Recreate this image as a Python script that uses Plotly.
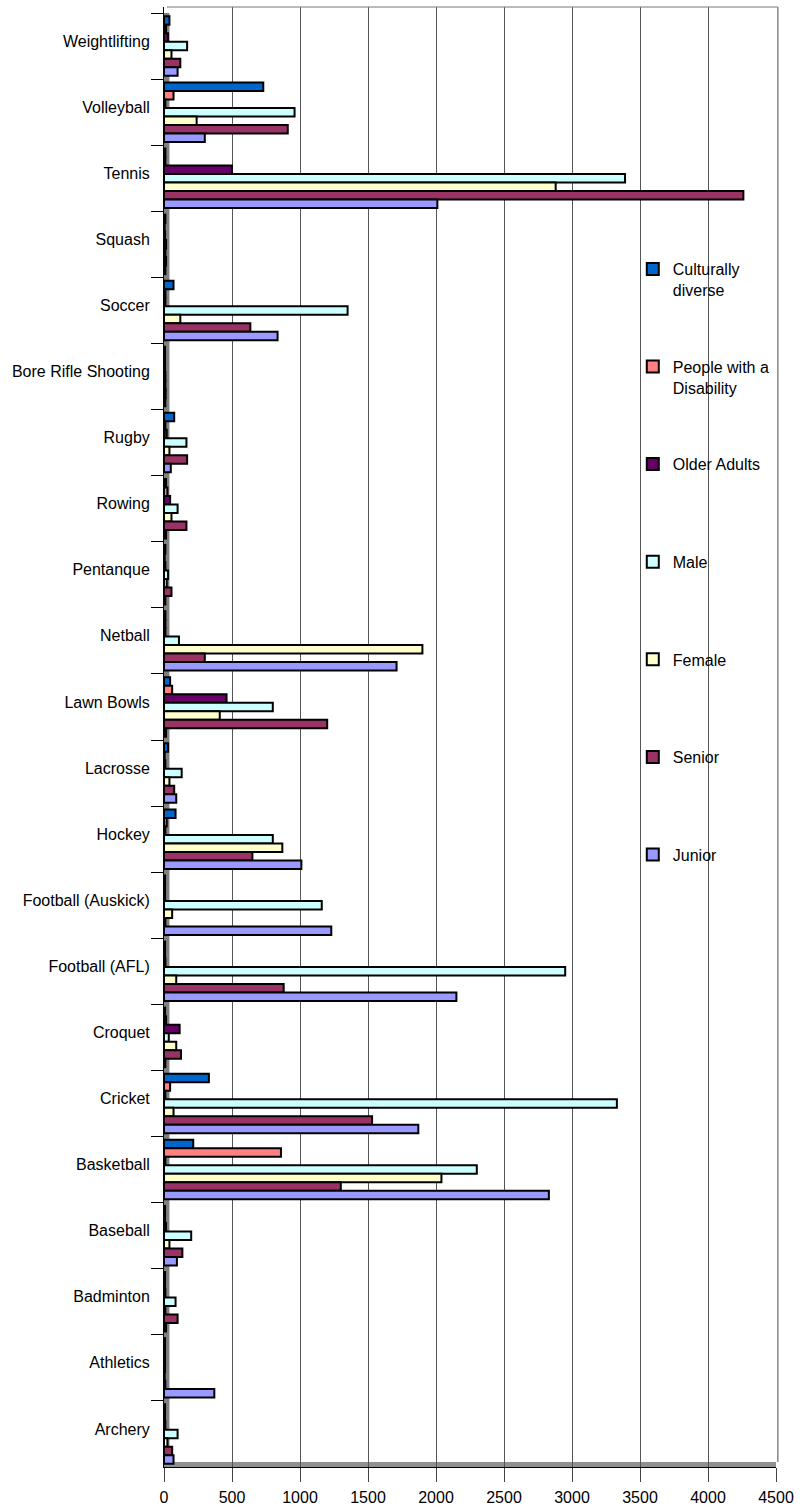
import plotly.graph_objects as go

categories = ["Weightlifting", "Volleyball", "Tennis", "Squash", "Soccer",
              "Bore Rifle Shooting", "Rugby", "Rowing", "Pentanque", "Netball",
              "Lawn Bowls", "Lacrosse", "Hockey", "Football (Auskick)",
              "Football (AFL)", "Croquet", "Cricket", "Basketball", "Baseball",
              "Badminton", "Athletics", "Archery"]

culturally_diverse = [40, 730, 10, 10, 70, 8, 75, 15, 10, 10, 45, 30, 85, 8, 8, 8, 330, 215, 8, 8, 8, 8]
people_disability = [15, 70, 10, 5, 10, 8, 10, 25, 5, 10, 60, 5, 20, 8, 8, 15, 45, 860, 8, 8, 8, 8]
older_adults = [30, 10, 500, 8, 10, 8, 20, 45, 10, 10, 460, 10, 10, 8, 10, 115, 10, 10, 15, 10, 8, 10]
male = [170, 960, 3390, 15, 1350, 10, 165, 100, 30, 110, 800, 130, 800, 1160, 2950, 35, 3330, 2300, 200, 85, 8, 100]
female = [55, 240, 2880, 10, 120, 10, 40, 55, 20, 1900, 410, 40, 870, 60, 90, 90, 70, 2040, 40, 10, 5, 25]
senior = [120, 910, 4260, 15, 635, 12, 170, 165, 55, 300, 1200, 75, 650, 10, 880, 125, 1530, 1300, 135, 100, 10, 60]
junior = [100, 300, 2010, 10, 835, 10, 50, 15, 10, 1710, 15, 90, 1010, 1230, 2150, 10, 1870, 2830, 95, 15, 370, 70]

series = [
    ("Culturally<br>diverse", culturally_diverse, "#0066CC"),
    ("People with a<br>Disability", people_disability, "#FF8080"),
    ("Older Adults<br> ", older_adults, "#660066"),
    ("Male<br> ", male, "#CCFFFF"),
    ("Female<br> ", female, "#FFFFCC"),
    ("Senior<br> ", senior, "#993366"),
    ("Junior<br> ", junior, "#9999FF"),
]

x_ticks = [0, 500, 1000, 1500, 2000, 2500, 3000, 3500, 4000, 4500]

FONT = "Liberation Sans, Arial, sans-serif"

fig = go.Figure()
for i, (name, vals, col) in enumerate(series):
    fig.add_trace(go.Bar(
        y=categories, x=vals, name=name, orientation="h",
        marker=dict(color=col, line=dict(color="black", width=2)),
        legendgroup=f"g{i}",
    ))

W, H = 805, 1512
L, R, T, B = 164, 29, 7, 45
plot_h = H - T - B
extra = 6 / 66.0

fig.update_layout(
    width=W, height=H,
    margin=dict(l=L, r=R, t=T, b=B, pad=0, autoexpand=False),
    paper_bgcolor="white", plot_bgcolor="white",
    barmode="group", bargap=0.1, bargroupgap=0,
    font=dict(family=FONT, size=16, color="black"),
    showlegend=True,
    legend=dict(
        x=0.766, y=1 - (252 - T) / plot_h, xanchor="left", yanchor="top",
        traceorder="grouped", tracegroupgap=53, valign="top",
        font=dict(family=FONT, size=16, color="black"),
        bgcolor="rgba(0,0,0,0)",
    ),
    xaxis=dict(
        range=[0, 4500], tickvals=x_ticks, ticktext=[str(v) for v in x_ticks],
        showgrid=True, gridcolor="#555555", gridwidth=1,
        ticks="outside", ticklen=14, tickcolor="#444444",
        showline=True, linecolor="black", linewidth=1,
        zeroline=False, tickfont=dict(size=16), ticklabelstandoff=2,
        automargin=False,
    ),
    yaxis=dict(
        categoryorder="array", categoryarray=categories,
        range=[len(categories) - 0.5, -0.5 - extra],
        tickson="boundaries", ticks="outside", ticklen=12, tickcolor="black",
        showline=True, linecolor="black", linewidth=1,
        showgrid=False, tickfont=dict(size=16),
        ticklabelstandoff=10, ticklabelshift=5, automargin=False,
    ),
)

# left gray wall, floor, top and right frame (3D chart look)
fig.add_shape(type="rect", xref="x", yref="paper", x0=0, x1=40,
              y0=0, y1=1 - 6 / plot_h, fillcolor="#808080", line=dict(width=0),
              layer="below")
fig.add_shape(type="rect", xref="paper", yref="paper", x0=0, x1=1,
              y0=0, y1=5 / plot_h, fillcolor="#909090", line=dict(width=0),
              layer="below")
fig.add_shape(type="line", xref="paper", yref="paper", x0=3 / 612, x1=1.003,
              y0=1, y1=1, line=dict(color="#777777", width=1))
fig.add_shape(type="line", xref="paper", yref="paper", x0=1.003, x1=1.003,
              y0=5 / plot_h, y1=1, line=dict(color="#888888", width=1.5))

fig.write_html("out.html")
